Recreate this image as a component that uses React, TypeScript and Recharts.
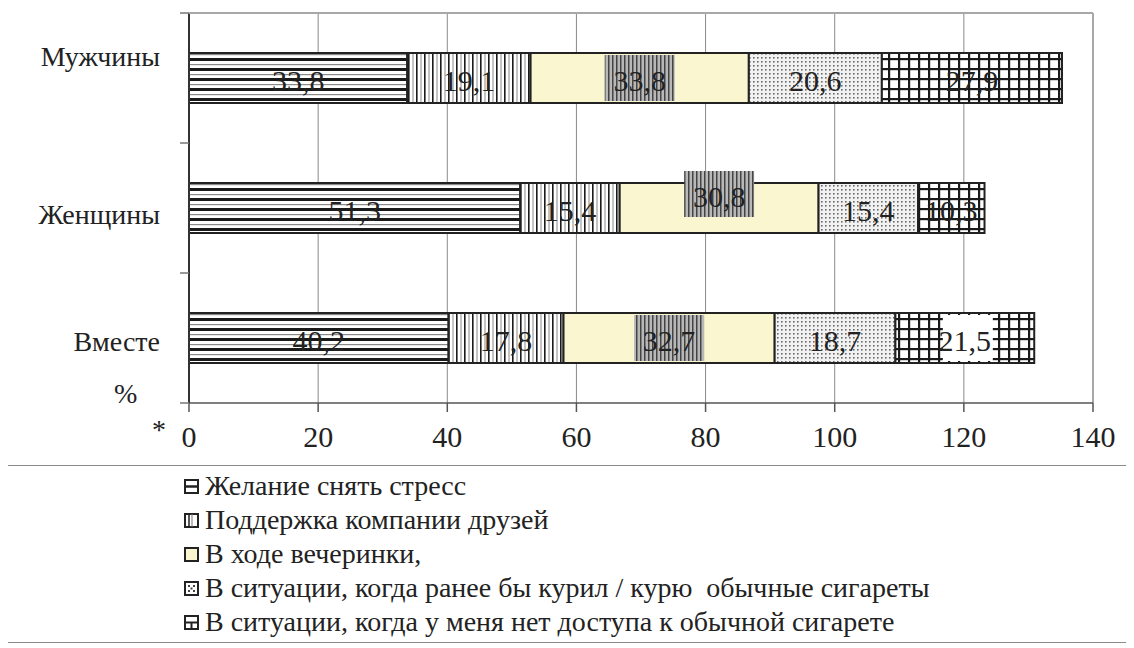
import React from 'react';
import { BarChart, Bar, XAxis, YAxis, CartesianGrid, LabelList, Legend, ReferenceLine } from 'recharts';

const categories = ['Мужчины', 'Женщины', 'Вместе'];
const stress = [33.8, 51.3, 40.2];
const friends = [19.1, 15.4, 17.8];
const party = [33.8, 30.8, 32.7];
const insteadOfCigarettes = [20.6, 15.4, 18.7];
const noAccess = [27.9, 10.3, 21.5];
const xTicks = [0, 20, 40, 60, 80, 100, 120, 140];
const seriesNames = [
  'Желание снять стресс',
  'Поддержка компании друзей',
  'В ходе вечеринки,',
  'В ситуации, когда ранее бы курил / курю  обычные сигареты',
  'В ситуации, когда у меня нет доступа к обычной сигарете',
];
const seriesKeys = ['s1', 's2', 's3', 's4', 's5'];
const seriesFills = ['url(#pH)', 'url(#pV)', '#FAF6D0', 'url(#pDots)', 'url(#pGrid)'];

const data = categories.map((name, i) => ({
  name,
  s1: stress[i],
  s2: friends[i],
  s3: party[i],
  s4: insteadOfCigarettes[i],
  s5: noAccess[i],
}));

const FONT = 'Liberation Serif, serif';

const CHART_W = 1126;
const CHART_H = 640;
const MARGIN = { top: 5, right: 41, left: 1, bottom: 185 };
const X_AXIS_H = 60;
const PLOT_H = CHART_H - MARGIN.top - MARGIN.bottom - X_AXIS_H;
const BAND = PLOT_H / categories.length;
const catLabelDy = [-22, 6, 3];

const CatTick = (props: any) => {
  const { x, y, payload, index } = props;
  const idx = typeof index === 'number' ? index : categories.indexOf(payload.value);
  const top = y - BAND / 2;
  const bottom = y + BAND / 2;
  return (
    <g>
      <line x1={x - 9} x2={x} y1={top} y2={top} stroke="#777" strokeWidth={1.5} />
      {idx === categories.length - 1 && (
        <line x1={x - 9} x2={x} y1={bottom} y2={bottom} stroke="#777" strokeWidth={1.5} />
      )}
      <text x={x - 29} y={y + (catLabelDy[idx] || 0)} textAnchor="end" dominantBaseline="central"
        fontFamily={FONT} style={{ fontFamily: FONT }} fontSize={28} fill="#222">
        {payload.value}
      </text>
    </g>
  );
};

const makeLabel = (seriesIdx: number) => (props: any) => {
  const { x, y, width, height, value, index } = props;
  const cx = Number(x) + Number(width) / 2;
  let cy = Number(y) + Number(height) / 2;
  const txt = String(value).replace('.', ',');
  let bg: any = null;
  if (seriesIdx === 2) {
    if (index === 1) cy -= 14;
    bg = <rect x={cx - 35} y={cy - 23} width={70} height={46} fill="url(#pLabel)" />;
  }
  if (seriesIdx === 4 && index === 2) {
    bg = <rect x={cx - 22} y={Number(y) + 2} width={50} height={Number(height) - 4} fill="#fff" />;
  }
  return (
    <g>
      {bg}
      <text x={cx} y={cy + 2} textAnchor="middle" dominantBaseline="central"
        fontFamily={FONT} style={{ fontFamily: FONT }} fontSize={30} fill="#222">
        {txt}
      </text>
    </g>
  );
};

const LegendIcon = ({ i }: { i: number }) => {
  const s = 13;
  return (
    <svg width={s + 2} height={s + 2} style={{ display: 'block' }}>
      <rect x={1} y={1} width={s} height={s} fill={i === 2 ? '#FAF6D0' : '#fff'} stroke="#222" strokeWidth={2} />
      {i === 0 && <line x1={1} x2={s + 1} y1={7.5} y2={7.5} stroke="#222" strokeWidth={2.5} />}
      {i === 1 && (
        <g>
          <line x1={5} x2={5} y1={1} y2={s + 1} stroke="#222" strokeWidth={1.5} />
          <line x1={8} x2={8} y1={1} y2={s + 1} stroke="#777" strokeWidth={1} />
        </g>
      )}
      {i === 3 && (
        <g fill="#444">
          <rect x={4} y={4} width={2} height={2} />
          <rect x={9} y={4} width={2} height={2} />
          <rect x={4} y={9} width={2} height={2} />
          <rect x={9} y={9} width={2} height={2} />
          <rect x={6.5} y={6.5} width={2} height={2} />
        </g>
      )}
      {i === 4 && (
        <g>
          <line x1={1} x2={s + 1} y1={7.5} y2={7.5} stroke="#222" strokeWidth={2} />
          <line x1={7.5} x2={7.5} y1={7.5} y2={s + 1} stroke="#222" strokeWidth={2} />
        </g>
      )}
    </svg>
  );
};

const renderLegend = () => (
  <div style={{
    boxSizing: 'border-box', width: '100%', height: '100%', border: '1.5px solid #8a8a8a',
    background: '#fff', paddingLeft: 181, paddingTop: 3, fontFamily: FONT,
  }}>
    {seriesNames.map((n, i) => (
      <div key={n} style={{ display: 'flex', alignItems: 'center', height: 34 }}>
        <LegendIcon i={i} />
        <span style={{ marginLeft: 6, fontFamily: FONT, fontSize: 28, color: '#222', whiteSpace: 'pre', lineHeight: '34px' }}>{n}</span>
      </div>
    ))}
  </div>
);

export default function App() {
  return (
    <div style={{ width: CHART_W, height: CHART_H, position: 'relative', fontFamily: FONT }}>
      <BarChart width={CHART_W} height={CHART_H} data={data} layout="vertical"
        margin={MARGIN} barSize={50} style={{ fontFamily: FONT }}>
        <defs>
          <pattern id="pH" patternUnits="userSpaceOnUse" width={10} height={10}>
            <rect width={10} height={10} fill="#fff" />
            <rect y={0} width={10} height={3} fill="#1a1a1a" />
            <rect y={6} width={10} height={1.2} fill="#8a8a8a" />
          </pattern>
          <pattern id="pV" patternUnits="userSpaceOnUse" width={8} height={8}>
            <rect width={8} height={8} fill="#fff" />
            <rect x={0} width={1.6} height={8} fill="#1a1a1a" />
            <rect x={4.5} width={1} height={8} fill="#8a8a8a" />
          </pattern>
          <pattern id="pDots" patternUnits="userSpaceOnUse" width={4} height={4}>
            <rect width={4} height={4} fill="#f2f2f2" />
            <rect x={1} y={1} width={1.6} height={1.6} fill="#6a6a6a" />
          </pattern>
          <pattern id="pGrid" patternUnits="userSpaceOnUse" width={10} height={10}>
            <rect width={10} height={10} fill="#fff" />
            <rect x={0} width={2.2} height={10} fill="#1a1a1a" />
            <rect y={0} width={10} height={2.2} fill="#1a1a1a" />
          </pattern>
          <pattern id="pLabel" patternUnits="userSpaceOnUse" width={4} height={4}>
            <rect width={4} height={4} fill="#b8b8b8" />
            <rect x={0} width={1.5} height={4} fill="#444" />
          </pattern>
        </defs>
        <CartesianGrid horizontal={false} vertical stroke="#8a8a8a" strokeWidth={1} />
        <XAxis type="number" domain={[0, 140]} ticks={xTicks} interval={0} height={X_AXIS_H}
          tickSize={9} tickMargin={14} stroke="#555" strokeWidth={1.5}
          tick={{ fontFamily: FONT, fontSize: 30, fill: '#222' }} />
        <YAxis type="category" dataKey="name" width={180} tickSize={0} tickMargin={0} tickLine={false}
          interval={0} axisLine={{ stroke: '#333', strokeWidth: 2 }} tick={<CatTick />} />
        <ReferenceLine x={140} stroke="#a8a8a8" strokeWidth={2} />
        {seriesKeys.map((k, i) => (
          <Bar key={k} dataKey={k} name={seriesNames[i]} stackId="a"
            fill={seriesFills[i]} stroke="#222" strokeWidth={2} isAnimationActive={false}>
            <LabelList dataKey={k} content={makeLabel(i)} />
          </Bar>
        ))}
        <Legend layout="horizontal" verticalAlign="middle" align="center" content={renderLegend}
          wrapperStyle={{ left: -6, top: 457, width: 1130, height: 178 }} />
      </BarChart>
      <svg style={{ position: 'absolute', left: 0, top: 0, pointerEvents: 'none' }} width={CHART_W} height={CHART_H}>
        <line x1={MARGIN.left + 180} x2={CHART_W - MARGIN.right} y1={MARGIN.top} y2={MARGIN.top} stroke="#a8a8a8" strokeWidth={2} />
      </svg>
      <div style={{ position: 'absolute', left: 106, top: 370, fontFamily: FONT, fontSize: 28, color: '#222', lineHeight: '32px' }}>%</div>
      <div style={{ position: 'absolute', left: 144, top: 406, fontFamily: FONT, fontSize: 28, color: '#222', lineHeight: '32px' }}>*</div>
    </div>
  );
}
